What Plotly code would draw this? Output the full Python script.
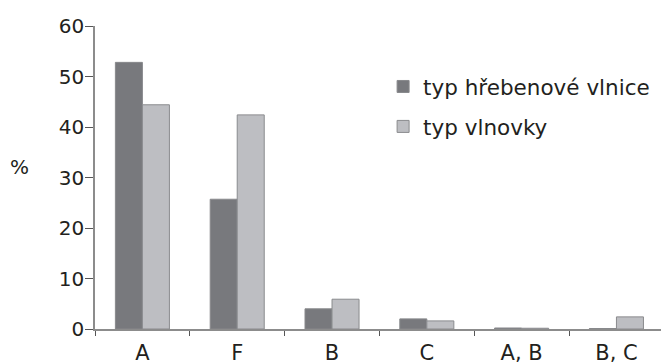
import plotly.graph_objects as go

categories = ["A", "F", "B", "C", "A, B", "B, C"]
hrebenove = [52.8, 25.7, 4.0, 2.0, 0.2, 0.1]
vlnovky = [44.4, 42.4, 5.9, 1.6, 0.15, 2.4]
series_names = ["typ hřebenové vlnice", "typ vlnovky"]
y_ticks = [0, 10, 20, 30, 40, 50, 60]

FONT = "DejaVu Sans"
fig = go.Figure()
fig.add_trace(go.Bar(x=categories, y=hrebenove, name=series_names[0], legendgroup="a",
                     marker=dict(color="#78797d", line=dict(color="#88898c", width=1))))
fig.add_trace(go.Bar(x=categories, y=vlnovky, name=series_names[1], legendgroup="b",
                     marker=dict(color="#bdbec2", line=dict(color="#8a8b8e", width=1))))

fig.update_layout(
    width=661, height=363,
    margin=dict(l=95, r=0, t=26, b=34),
    paper_bgcolor="white", plot_bgcolor="white",
    barmode="group", bargap=0.43, bargroupgap=0,
    font=dict(family=FONT, size=21, color="#231f20"),
    showlegend=True,
    legend=dict(x=0.509, y=0.868, xanchor="left", yanchor="top",
                font=dict(size=21.5, family=FONT, color="#231f20"),
                tracegroupgap=9, traceorder="grouped", bgcolor="rgba(0,0,0,0)"),
    xaxis=dict(range=[-0.5, 5.47], showline=True, linecolor="#8c8c8c", linewidth=1.5,
               ticks="outside", tickson="boundaries", ticklen=5, tickcolor="#555",
               tickwidth=1, showgrid=False, zeroline=False, automargin=False,
               ticklabelstandoff=4, tickfont=dict(size=21, family=FONT)),
    yaxis=dict(range=[0, 60], tickvals=y_ticks, showline=True, linecolor="#8c8c8c",
               linewidth=1.5, ticks="outside", ticklen=8, tickcolor="#555", tickwidth=1,
               showgrid=False, zeroline=False, automargin=False,
               ticklabelstandoff=-3, tickfont=dict(size=20, family=FONT)),
    annotations=[dict(text="%", x=-0.133, y=32, xref="paper", yref="y",
                      xanchor="center", showarrow=False,
                      font=dict(size=20, family=FONT))],
)
fig.write_html("out.html", config={"displayModeBar": False},
               post_script="document.body.style.margin='0px';")
